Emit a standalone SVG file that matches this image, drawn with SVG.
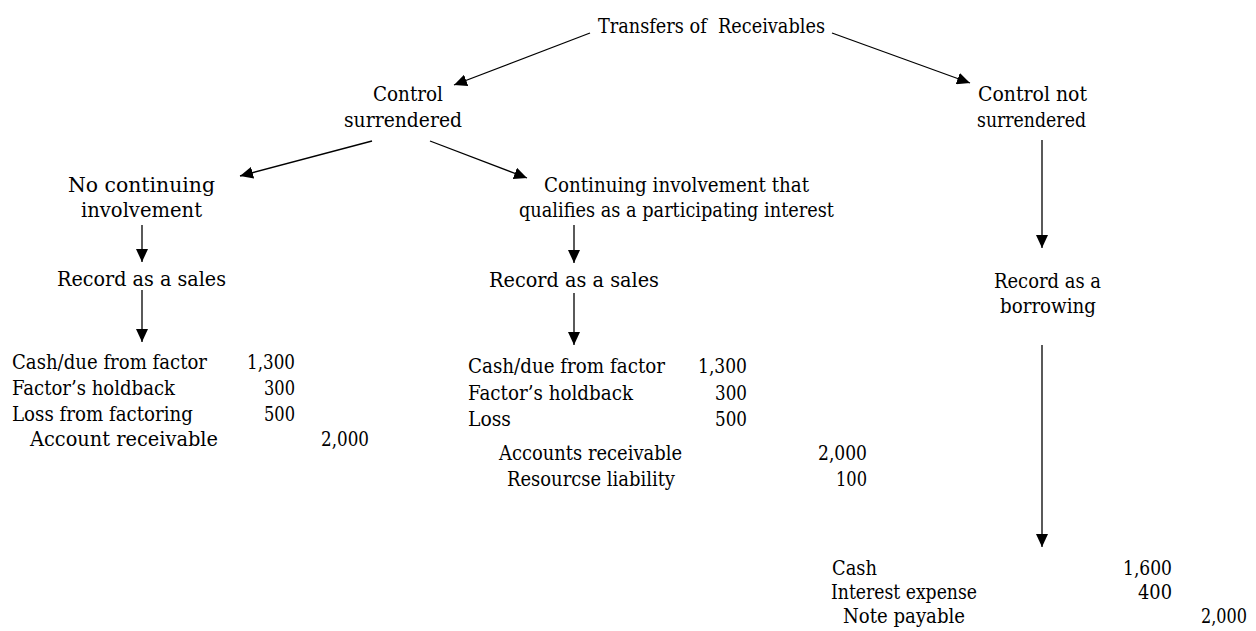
<svg xmlns="http://www.w3.org/2000/svg" width="1256" height="631" viewBox="0 0 1256 631">
<style>
text{font-family:"DejaVu Serif","Liberation Serif",serif;font-size:19.5px;fill:#000}
.n{text-anchor:end}
.c{stroke:#000;stroke-width:1.3;fill:none}
</style>
<defs>
<marker id="ah" markerUnits="userSpaceOnUse" markerWidth="14" markerHeight="12" refX="13" refY="6" orient="auto">
<path d="M0,0 L13,6 L0,12 Z" fill="#000"/>
</marker>
</defs>
<rect width="1256" height="631" fill="#fff"/>
<g id="connectors">
<line class="c" x1="590" y1="33" x2="454" y2="85" marker-end="url(#ah)"/>
<line class="c" x1="832" y1="33" x2="970" y2="83" marker-end="url(#ah)"/>
<line class="c" x1="372" y1="141" x2="240" y2="176" marker-end="url(#ah)"/>
<line class="c" x1="430" y1="141" x2="527" y2="178" marker-end="url(#ah)"/>
<line class="c" x1="142" y1="225" x2="142" y2="262" marker-end="url(#ah)"/>
<line class="c" x1="142" y1="290" x2="142" y2="342" marker-end="url(#ah)"/>
<line class="c" x1="574" y1="225" x2="574" y2="263" marker-end="url(#ah)"/>
<line class="c" x1="574" y1="293" x2="574" y2="345" marker-end="url(#ah)"/>
<line class="c" x1="1042" y1="140" x2="1042" y2="248" marker-end="url(#ah)"/>
<line class="c" x1="1042" y1="345" x2="1042" y2="547" marker-end="url(#ah)"/>
</g>
<g id="root">
<text x="598" y="33" style="white-space:pre" textLength="227" lengthAdjust="spacingAndGlyphs">Transfers of  Receivables</text>
</g>
<g id="control-surrendered">
<text x="373" y="101" textLength="70" lengthAdjust="spacingAndGlyphs">Control</text>
<text x="344" y="127" textLength="118" lengthAdjust="spacingAndGlyphs">surrendered</text>
</g>
<g id="control-not-surrendered">
<text x="978" y="101" textLength="109" lengthAdjust="spacingAndGlyphs">Control not</text>
<text x="977" y="127" textLength="109" lengthAdjust="spacingAndGlyphs">surrendered</text>
</g>
<g id="no-continuing">
<text x="68" y="192" textLength="147" lengthAdjust="spacingAndGlyphs">No continuing</text>
<text x="81" y="217" textLength="121" lengthAdjust="spacingAndGlyphs">involvement</text>
</g>
<g id="record-sales-left">
<text x="57" y="286" textLength="169" lengthAdjust="spacingAndGlyphs">Record as a sales</text>
</g>
<g id="entry-left">
<text x="12" y="369" textLength="195" lengthAdjust="spacingAndGlyphs">Cash/due from factor</text>
<text class="n" x="295" y="369" textLength="48" lengthAdjust="spacingAndGlyphs">1,300</text>
<text x="12" y="395" textLength="163" lengthAdjust="spacingAndGlyphs">Factor’s holdback</text>
<text class="n" x="295" y="395" textLength="31" lengthAdjust="spacingAndGlyphs">300</text>
<text x="12" y="421" textLength="181" lengthAdjust="spacingAndGlyphs">Loss from factoring</text>
<text class="n" x="295" y="421" textLength="31" lengthAdjust="spacingAndGlyphs">500</text>
<text x="30" y="446" textLength="188" lengthAdjust="spacingAndGlyphs">Account receivable</text>
<text class="n" x="369" y="446" textLength="48" lengthAdjust="spacingAndGlyphs">2,000</text>
</g>
<g id="continuing-involvement">
<text x="544" y="192" textLength="265" lengthAdjust="spacingAndGlyphs">Continuing involvement that</text>
<text x="519" y="217" textLength="315" lengthAdjust="spacingAndGlyphs">qualifies as a participating interest</text>
</g>
<g id="record-sales-middle">
<text x="489" y="287" textLength="170" lengthAdjust="spacingAndGlyphs">Record as a sales</text>
</g>
<g id="entry-middle">
<text x="468" y="373" textLength="197" lengthAdjust="spacingAndGlyphs">Cash/due from factor</text>
<text class="n" x="747" y="373" textLength="49" lengthAdjust="spacingAndGlyphs">1,300</text>
<text x="468" y="400" textLength="165" lengthAdjust="spacingAndGlyphs">Factor’s holdback</text>
<text class="n" x="747" y="400" textLength="32" lengthAdjust="spacingAndGlyphs">300</text>
<text x="468" y="426" textLength="43" lengthAdjust="spacingAndGlyphs">Loss</text>
<text class="n" x="747" y="426" textLength="32" lengthAdjust="spacingAndGlyphs">500</text>
<text x="499" y="460" textLength="183" lengthAdjust="spacingAndGlyphs">Accounts receivable</text>
<text class="n" x="867" y="460" textLength="49" lengthAdjust="spacingAndGlyphs">2,000</text>
<text x="507" y="486" textLength="168" lengthAdjust="spacingAndGlyphs">Resourcse liability</text>
<text class="n" x="867" y="486" textLength="31" lengthAdjust="spacingAndGlyphs">100</text>
</g>
<g id="record-borrowing">
<text x="994" y="288" textLength="107" lengthAdjust="spacingAndGlyphs">Record as a</text>
<text x="1000" y="313" textLength="96" lengthAdjust="spacingAndGlyphs">borrowing</text>
</g>
<g id="entry-right">
<text x="832" y="575" textLength="45" lengthAdjust="spacingAndGlyphs">Cash</text>
<text class="n" x="1172" y="575" textLength="49" lengthAdjust="spacingAndGlyphs">1,600</text>
<text x="831" y="599" textLength="146" lengthAdjust="spacingAndGlyphs">Interest expense</text>
<text class="n" x="1172" y="599" textLength="34" lengthAdjust="spacingAndGlyphs">400</text>
<text x="843" y="623" textLength="122" lengthAdjust="spacingAndGlyphs">Note payable</text>
<text class="n" x="1247" y="623" textLength="46" lengthAdjust="spacingAndGlyphs">2,000</text>
</g>
</svg>
